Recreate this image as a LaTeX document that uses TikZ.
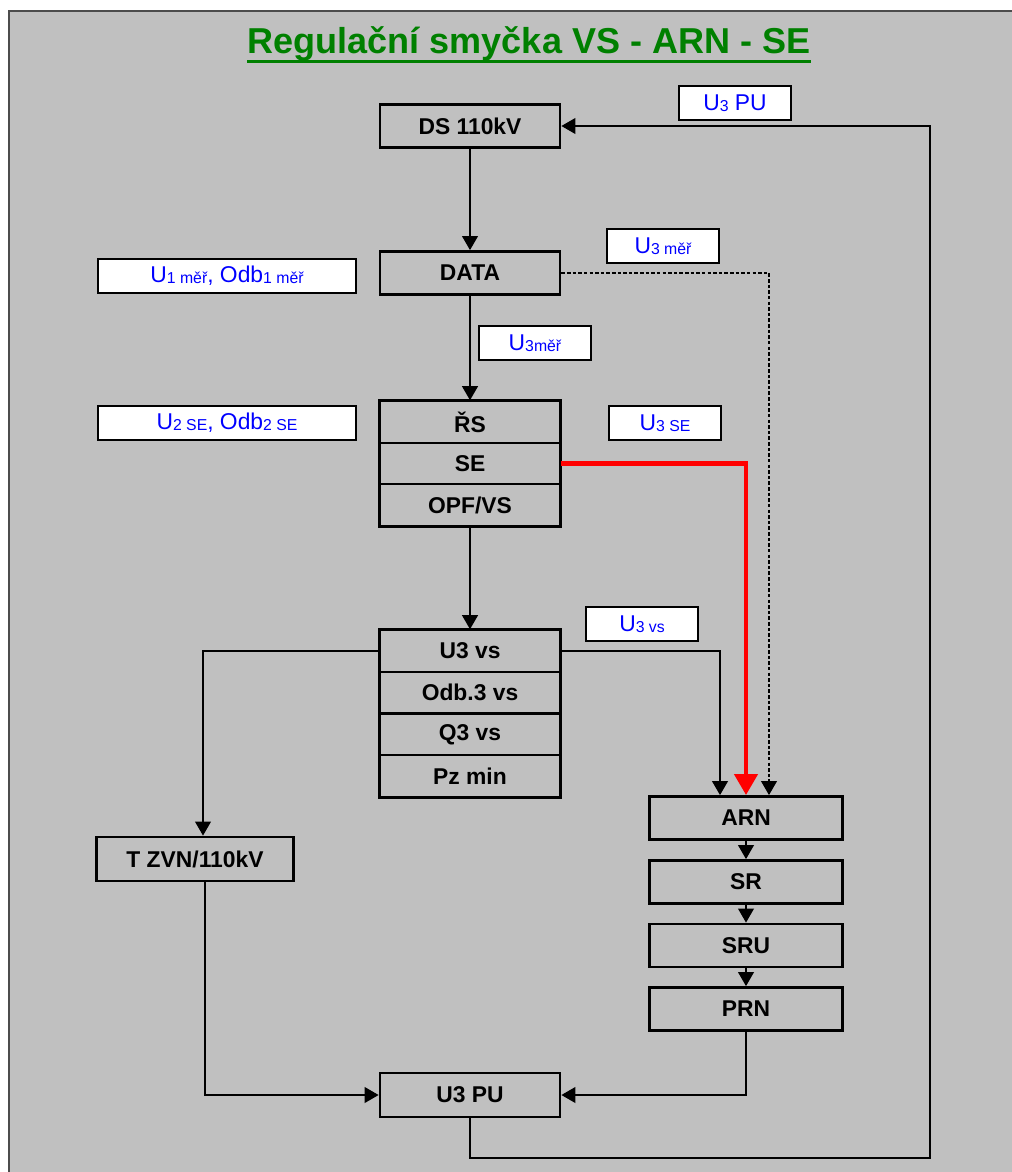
\documentclass[tikz,border=0pt]{standalone}
\usepackage{fontspec}
\setmainfont{Liberation Sans}
\usetikzlibrary{arrows.meta,positioning}
\definecolor{pozadi}{RGB}{192,192,192}
\definecolor{zelena}{RGB}{0,128,0}
\definecolor{modra}{RGB}{0,0,255}
\tikzset{
	box/.style = {
		draw,
		line width=1.6pt,
		minimum width=3.6cm,
		minimum height=0.86cm,
		inner sep=0pt,
		font=\fontsize{13}{15}\selectfont\bfseries
	},
	radek/.style = {
		draw,
		line width=1pt,
		minimum width=3.6cm,
		minimum height=0.835cm,
		inner sep=0pt,
		font=\fontsize{13}{15}\selectfont\bfseries
	},
	popis/.style = {
		draw,
		fill=white,
		line width=0.7pt,
		text=modra,
		minimum width=2.24cm,
		minimum height=0.68cm,
		inner sep=0pt,
		font=\fontsize{13}{15}\selectfont
	},
	signal/.style = {
		-{Triangle[length=8pt,width=9pt]},
		line width=0.9pt
	},
	spoj/.style = {
		line width=0.9pt
	}
}
% maly index za U
\newcommand{\ix}[1]{\raisebox{-0.6pt}{\fontsize{9}{10}\selectfont #1}}

\begin{document}
\begin{tikzpicture}[x=0.02cm, y=-0.02cm]

		% --- Pozadí ---
		\useasboundingbox (0,0) rectangle (1011,1172);
		\fill[white] (0,0) rectangle (1011,1172);
		\filldraw[fill=pozadi, draw=black!70, line width=0.8pt] (9,11) rectangle (1016,1178);

		% --- Nadpis ---
		\node[anchor=base, text=zelena, inner sep=0pt, font=\fontsize{20.5}{24}\selectfont\bfseries] (nadpis) at (529,54)
		{Regulační smyčka VS - ARN - SE};
		\draw[zelena, line width=1.7pt] ([yshift=-4pt]nadpis.base west) -- ([yshift=-4pt]nadpis.base east);

		% --- BLOKY ---
		\node [box] (ds) at (470,126) {DS 110kV};
		\node [box] (data) at (470,273) {DATA};

		% Blok ŘS / SE / OPF
		\node [radek] (rs) at (470,422) {ŘS};
		\node [radek] (se) at (470,463.5) {SE};
		\node [radek] (opf) at (470,505) {OPF/VS};
		\draw[line width=1.6pt] (rs.north west) rectangle (opf.south east);

		% Blok výstupů VS
		\node [radek] (u3vs) at (470,651) {U3 vs};
		\node [radek] (odb) at (470,692.5) {Odb.3 vs};
		\node [radek] (q3) at (470,734.5) {Q3 vs};
		\node [radek] (pz) at (470,776) {Pz min};
		\draw[line width=1.6pt] (u3vs.north west) rectangle (pz.south east);

		% Řetězec ARN
		\node [box, minimum width=3.86cm] (arn) at (746,818) {ARN};
		\node [box, minimum width=3.86cm] (sr) at (746,882) {SR};
		\node [box, minimum width=3.86cm] (sru) at (746,945.5) {SRU};
		\node [box, minimum width=3.86cm] (prn) at (746,1009) {PRN};

		\node [box, minimum width=3.94cm, minimum height=0.88cm] (tzvn) at (195,859) {T ZVN/110kV};
		\node [box, minimum height=0.88cm] (u3pu) at (470,1095) {U3 PU};

		% pomocný bod dole vpravo
		\coordinate (dole) at (930,1158);

		% --- POPISY ---
		\node [popis] (pPU) at (735,103) {U\ix{3} PU};
		\node [popis] (pMer) at (663,246) {U\ix{3 měř}};
		\node [popis, minimum width=5.16cm] (pU1) at (227,276) {U\ix{1 měř}, Odb\ix{1 měř}};
		\node [popis] (pMer2) at (535,343) {U\ix{3měř}};
		\node [popis, minimum width=5.16cm] (pU2) at (227,423) {U\ix{2 SE}, Odb\ix{2 SE}};
		\node [popis] (pSE) at (665,423) {U\ix{3 SE}};
		\node [popis] (pVS) at (642,624) {U\ix{3 vs}};

		% --- SPOJE ---
		\draw [signal] (ds) -- (data);
		\draw [signal] (data) -- (rs);
		\draw [signal] (opf) -- (u3vs);

		% U3 vs -> T ZVN a -> ARN
		\draw [signal] (u3vs.west) -| ([xshift=0.16cm]tzvn.north);
		\draw [signal] (u3vs.east) -| ([xshift=-0.52cm]arn.north);

		% SE -> ARN (červeně)
		\draw [red, line width=2.8pt, -{Triangle[length=12pt,width=13pt]}] (se.east) -| (arn.north);

		% DATA -> ARN (tečkovaně)
		\draw [signal, dash pattern=on 2pt off 1.2pt, line width=0.8pt] (data.east) -| ([xshift=0.46cm]arn.north);

		\draw [signal] (arn) -- (sr);
		\draw [signal] (sr) -- (sru);
		\draw [signal] (sru) -- (prn);

		% do U3 PU
		\draw [signal] ([xshift=0.2cm]tzvn.south) |- (u3pu.west);
		\draw [signal] (prn.south) |- (u3pu.east);

		% zpětná vazba U3 PU -> DS 110kV
		\draw [signal] (u3pu.south) |- (dole) |- (ds.east);

\end{tikzpicture}
\end{document}
